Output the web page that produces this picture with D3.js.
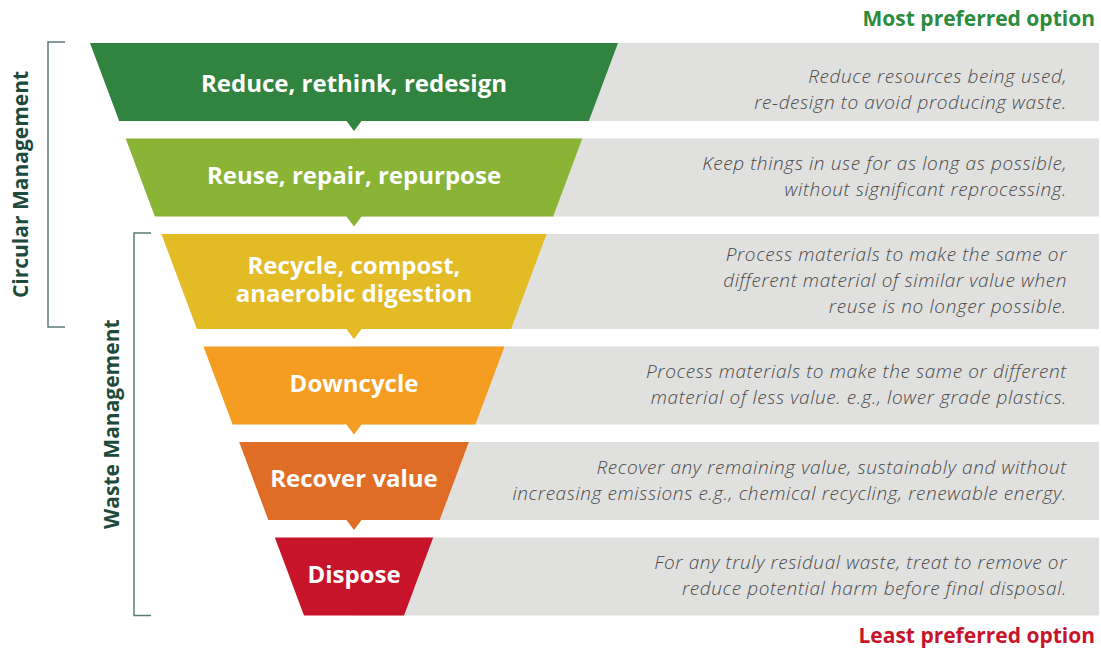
<!DOCTYPE html>
<html>
<head>
<meta charset="utf-8">
<script src="https://cdn.jsdelivr.net/npm/d3@7"></script>
<style>
  body { margin: 0; background: #fff; }
  svg { display: block; font-family: "Open Sans", Roboto, sans-serif; }
</style>
</head>
<body>
<div id="chart"></div>
<script>
// tiers, from most to least preferred
var tierLabels = [
    ["Reduce, rethink, redesign"],
    ["Reuse, repair, repurpose"],
    ["Recycle, compost,", "anaerobic digestion"],
    ["Downcycle"],
    ["Recover value"],
    ["Dispose"]
];
var tierDescriptions = [
    ["Reduce resources being used,", "re-design to avoid producing waste."],
    ["Keep things in use for as long as possible,", "without significant reprocessing."],
    ["Process materials to make the same or", "different material of similar value when", "reuse is no longer possible."],
    ["Process materials to make the same or different", "material of less value. e.g., lower grade plastics."],
    ["Recover any remaining value, sustainably and without", "increasing emissions e.g., chemical recycling, renewable energy."],
    ["For any truly residual waste, treat to remove or", "reduce potential harm before final disposal."]
];
var tierColors = ["#30843f", "#8ab435", "#e2bb25", "#f59d20", "#e06d26", "#c8142a"];

// groupings shown with brackets on the left (tier index ranges)
var groups = [
    {name: "Circular Management", from: 0, to: 2},
    {name: "Waste Management", from: 2, to: 5}
];

var width = 1101, height = 648;

var svg = d3.select("#chart").append("svg")
    .attr("width", width)
    .attr("height", height);

/*
 * Lay out tiers top to bottom: the tier with a 3-line description is taller.
 */
var top0 = 43, baseH = 78, extraPerLine = 17, gap = 17.5;
var tiers = [];
var yCursor = top0;
for (var i = 0; i < tierLabels.length; i++) {
    var h = baseH + Math.max(0, tierDescriptions[i].length - 2) * extraPerLine;
    tiers.push({
        label: tierLabels[i],
        desc: tierDescriptions[i],
        color: tierColors[i],
        y0: yCursor,
        y1: yCursor + h
    });
    yCursor += h + gap;
}
var bottom = tiers[tiers.length - 1].y1;

// funnel half-width shrinks linearly with depth
var cx = 354;
var halfWidth = d3.scaleLinear().domain([top0, bottom]).range([264, 50]);
var grayRight = 1099;

var tierG = svg.selectAll("g.tier")
    .data(tiers)
    .enter().append("g")
    .attr("class", "tier");

// gray description band
tierG.append("rect")
    .attr("x", cx)
    .attr("y", function(d) { return d.y0; })
    .attr("width", grayRight - cx)
    .attr("height", function(d) { return d.y1 - d.y0; })
    .attr("fill", "#e0e0df");

// coloured trapezoid + pointer triangle under it
tierG.append("path")
    .attr("fill", function(d) { return d.color; })
    .attr("d", function(d, i) {
        var a = halfWidth(d.y0), b = halfWidth(d.y1);
        var p = "M" + (cx - a) + "," + d.y0 +
            "L" + (cx + a) + "," + d.y0 +
            "L" + (cx + b) + "," + d.y1;
        if (i < tiers.length - 1) {
            p += "L" + (cx + 7.5) + "," + d.y1 +
                "L" + cx + "," + (d.y1 + 10) +
                "L" + (cx - 7.5) + "," + d.y1;
        }
        p += "L" + (cx - b) + "," + d.y1 + "Z";
        return p;
    });

// tier name (one text element per line)
tierG.each(function(d, i) {
    var mid = (d.y0 + d.y1) / 2 + (i === 0 ? 2 : -2);
    var lh = 28;
    var start = mid - (d.label.length - 1) * lh / 2;
    d3.select(this).selectAll("text.name")
        .data(d.label)
        .enter().append("text")
        .attr("class", "name")
        .attr("text-anchor", "middle")
        .attr("fill", "#fff")
        .attr("font-weight", 700)
        .attr("font-size", 24)
        .attr("x", cx)
        .attr("y", function(t, j) { return start + j * lh; })
        .attr("dy", "0.35em")
        .text(function(t) { return t; });
});

// description, right aligned in the gray band
tierG.append("text")
    .attr("text-anchor", "end")
    .attr("fill", "#4a4a4a")
    .attr("font-style", "italic")
    .attr("font-weight", 300)
    .attr("font-size", 19)
    .attr("letter-spacing", 0.6)
    .each(function(d, i) {
        var mid = (d.y0 + d.y1) / 2 + (i === 0 ? 7 : -1);
        var lh = 26;
        var start = mid - (d.desc.length - 1) * lh / 2;
        d3.select(this).selectAll("tspan")
            .data(d.desc)
            .enter().append("tspan")
            .attr("x", 1067)
            .attr("y", function(t, j) { return start + j * lh; })
            .attr("dy", "0.35em")
            .text(function(t) { return t; });
    });

// top / bottom captions
svg.append("text")
    .attr("x", 1095).attr("y", 19).attr("dy", "0.35em")
    .attr("text-anchor", "end")
    .attr("font-weight", 700).attr("font-size", 21)
    .attr("fill", "#2e8b3c")
    .text("Most preferred option");

svg.append("text")
    .attr("x", 1095).attr("y", 636).attr("dy", "0.35em")
    .attr("text-anchor", "end")
    .attr("font-weight", 700).attr("font-size", 21)
    .attr("fill", "#c8142a")
    .text("Least preferred option");

// brackets on the left
var bracketX = [48, 134];
var labelX = [21, 112];
groups.forEach(function(g, k) {
    var y0 = tiers[g.from].y0 - 1;
    var y1 = tiers[g.to].y1;
    if (k === 0) y1 = tiers[g.to].y0 + 93;
    var bx = bracketX[k];
    svg.append("path")
        .attr("d", "M" + (bx + 17) + "," + y0 + "H" + bx + "V" + y1 + "H" + (bx + 17))
        .attr("fill", "none")
        .attr("stroke", "#5d7b78")
        .attr("stroke-width", 1.5);
    var my = (y0 + y1) / 2;
    svg.append("text")
        .attr("transform", "translate(" + labelX[k] + "," + my + ") rotate(-90)")
        .attr("text-anchor", "middle")
        .attr("dy", "0.35em")
        .attr("font-weight", 700)
        .attr("font-size", 21)
        .attr("fill", "#1c4a3c")
        .text(g.name);
});
</script>
</body>
</html>
